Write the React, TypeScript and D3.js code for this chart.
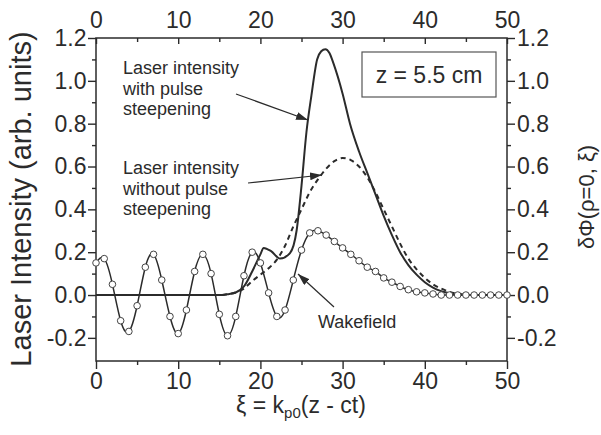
import React, { useEffect, useRef } from 'react'
import * as d3 from 'd3'

// laser intensity with pulse steepening (solid)
const steepXi = [0, 5, 10, 15, 16, 17, 18, 19, 20, 20.4, 21.3, 22.4, 23.6, 24.4, 25, 25.6, 26.2, 26.9, 27.4, 27.9, 28.4, 28.9, 30, 30.9, 32, 33, 34, 35, 36, 37, 38, 39, 40, 41, 42, 43, 44, 45, 50]
const steepVals = [0, 0, 0, 0, 0.004, 0.012, 0.04, 0.11, 0.19, 0.22, 0.205, 0.17, 0.196, 0.3, 0.51, 0.76, 0.93, 1.1, 1.138, 1.148, 1.13, 1.08, 0.94, 0.8, 0.67, 0.57, 0.47, 0.37, 0.28, 0.2, 0.14, 0.095, 0.06, 0.035, 0.018, 0.008, 0.003, 0, 0]

// laser intensity without pulse steepening (dashed)
const plainXi = [0, 5, 10, 15, 16, 17, 18, 19, 20, 21, 22, 23, 24, 25, 26, 27, 28, 29, 30, 31, 32, 33, 34, 35, 36, 37, 38, 39, 40, 41, 42, 43, 44, 45, 46, 50]
const plainVals = [0, 0, 0, 0, 0.004, 0.012, 0.03, 0.065, 0.095, 0.125, 0.165, 0.23, 0.32, 0.4, 0.48, 0.54, 0.59, 0.625, 0.64, 0.63, 0.6, 0.55, 0.48, 0.4, 0.32, 0.24, 0.17, 0.12, 0.08, 0.05, 0.03, 0.015, 0.006, 0.002, 0, 0]

// wakefield, sampled every unit of xi
const wakeXi = d3.range(0, 51)
const wakeVals = [0.15, 0.17, 0.05, -0.12, -0.17, -0.05, 0.13, 0.19, 0.07, -0.1, -0.18, -0.07, 0.11, 0.19, 0.1, -0.09, -0.19, -0.1, 0.09, 0.2, 0.15, 0.01, -0.1, -0.07, 0.07, 0.21, 0.29, 0.3, 0.28, 0.25, 0.22, 0.19, 0.16, 0.13, 0.11, 0.08, 0.06, 0.04, 0.025, 0.015, 0.01, 0.005, 0, 0, 0, 0, 0, 0, 0, 0, 0]

const xTicks = [0, 10, 20, 30, 40, 50]
const xMinor = [5, 15, 25, 35, 45]
const yTicks = [-0.2, 0, 0.2, 0.4, 0.6, 0.8, 1.0, 1.2]
const yMinor = [-0.1, 0.1, 0.3, 0.5, 0.7, 0.9, 1.1]

const ink = '#2b2b2b'
const font = 'Liberation Sans, Arial, Helvetica, sans-serif'

function App () {
  const ref = useRef<SVGSVGElement>(null)

  useEffect(() => {
    const svg = d3.select(ref.current)
    svg.selectAll('*').remove()

    const left = 96
    const right = 507
    const top = 38
    const bottom = 361

    const x = d3.scaleLinear().domain([0, 50]).range([left, right])
    const y = d3.scaleLinear().domain([-0.308, 1.2]).range([bottom, top])

    svg.append('defs').append('marker')
      .attr('id', 'head')
      .attr('viewBox', '0 0 12 8')
      .attr('refX', 12)
      .attr('refY', 4)
      .attr('markerWidth', 12)
      .attr('markerHeight', 8)
      .attr('markerUnits', 'userSpaceOnUse')
      .attr('orient', 'auto')
      .append('path')
      .attr('d', 'M0,0L12,4L0,8Z')
      .attr('fill', ink)

    const styleAxis = (g: any) => {
      g.select('.domain').remove()
      g.selectAll('line').attr('stroke', ink).attr('stroke-width', 1.4)
      g.selectAll('text')
        .attr('fill', ink)
        .attr('font-size', 23)
        .attr('font-family', font)
    }
    const yFmt = (d: any) => (+d).toFixed(1)

    // major ticks with labels
    svg.append('g').attr('transform', `translate(${left},0)`)
      .call(d3.axisLeft(y).tickValues(yTicks).tickFormat(yFmt).tickSize(8).tickPadding(1.5))
      .call(styleAxis)
    svg.append('g').attr('transform', `translate(${right},0)`)
      .call(d3.axisRight(y).tickValues(yTicks).tickFormat(yFmt).tickSize(8).tickPadding(2))
      .call(styleAxis)
    svg.append('g').attr('transform', `translate(0,${bottom})`)
      .call(d3.axisBottom(x).tickValues(xTicks).tickFormat(d3.format('d')).tickSize(8).tickPadding(4))
      .call(styleAxis)
    svg.append('g').attr('transform', `translate(0,${top})`)
      .call(d3.axisTop(x).tickValues(xTicks).tickFormat(d3.format('d')).tickSize(-6).tickPadding(10))
      .call(styleAxis)

    // minor ticks
    svg.append('g').attr('transform', `translate(${left},0)`)
      .call(d3.axisLeft(y).tickValues(yMinor).tickFormat(() => '').tickSize(4))
      .call(styleAxis)
    svg.append('g').attr('transform', `translate(${right},0)`)
      .call(d3.axisRight(y).tickValues(yMinor).tickFormat(() => '').tickSize(4))
      .call(styleAxis)
    svg.append('g').attr('transform', `translate(0,${bottom})`)
      .call(d3.axisBottom(x).tickValues(xMinor).tickFormat(() => '').tickSize(4))
      .call(styleAxis)
    svg.append('g').attr('transform', `translate(0,${top})`)
      .call(d3.axisTop(x).tickValues(xMinor).tickFormat(() => '').tickSize(-4))
      .call(styleAxis)

    // frame
    svg.append('rect')
      .attr('x', left).attr('y', top)
      .attr('width', right - left).attr('height', bottom - top)
      .attr('fill', 'none').attr('stroke', ink).attr('stroke-width', 1.5)

    const line = d3.line<[number, number]>()
      .x(d => x(d[0]))
      .y(d => y(d[1]))
      .curve(d3.curveMonotoneX)

    const wakeLine = d3.line<[number, number]>()
      .x(d => x(d[0]))
      .y(d => y(d[1]))
      .curve(d3.curveNatural)

    const wake = wakeXi.map((v, i) => [v, wakeVals[i]] as [number, number])

    svg.append('path')
      .attr('d', wakeLine(wake))
      .attr('fill', 'none').attr('stroke', ink).attr('stroke-width', 1.5)

    svg.append('path')
      .attr('d', line(plainXi.map((v, i) => [v, plainVals[i]] as [number, number])))
      .attr('fill', 'none').attr('stroke', ink).attr('stroke-width', 2)
      .attr('stroke-dasharray', '5,4')

    svg.append('path')
      .attr('d', line(steepXi.map((v, i) => [v, steepVals[i]] as [number, number])))
      .attr('fill', 'none').attr('stroke', ink).attr('stroke-width', 2)

    svg.append('g').selectAll('circle')
      .data(wake)
      .enter().append('circle')
      .attr('cx', d => x(d[0]))
      .attr('cy', d => y(d[1]))
      .attr('r', 3.3)
      .attr('fill', '#fff')
      .attr('stroke', '#444')
      .attr('stroke-width', 1)

    // z label box
    svg.append('rect')
      .attr('x', 362).attr('y', 52).attr('width', 134).attr('height', 45)
      .attr('fill', '#fff').attr('stroke', '#555').attr('stroke-width', 1.2)
    svg.append('text')
      .attr('x', 429).attr('y', 83)
      .attr('text-anchor', 'middle')
      .attr('font-size', 23).attr('font-family', font).attr('fill', ink)
      .text('z = 5.5 cm')

    // annotations
    const note = (lines: string[], x0: number, y0: number[]) => {
      lines.forEach((t, i) => {
        svg.append('text')
          .attr('x', x0).attr('y', y0[i])
          .attr('font-size', 18).attr('font-family', font).attr('fill', ink)
          .text(t)
      })
    }
    note(['Laser intensity', 'with pulse', 'steepening'], 123, [74, 94.5, 115])
    note(['Laser intensity', 'without pulse', 'steepening'], 123, [174, 194.5, 215])
    note(['Wakefield'], 318, [328])

    const arrow = (x1: number, y1: number, x2: number, y2: number) => {
      svg.append('line')
        .attr('x1', x1).attr('y1', y1).attr('x2', x2).attr('y2', y2)
        .attr('stroke', ink).attr('stroke-width', 1.2)
        .attr('marker-end', 'url(#head)')
    }
    arrow(236, 94, 308, 120)
    arrow(248, 183, 322, 175)
    arrow(334, 307, 298, 274)

    // axis titles
    svg.append('text')
      .attr('transform', 'translate(31,199) rotate(-90)')
      .attr('text-anchor', 'middle')
      .attr('font-size', 29).attr('font-family', font).attr('fill', ink)
      .text('Laser Intensity (arb. units)')

    svg.append('text')
      .attr('transform', 'translate(594,197) rotate(-90)')
      .attr('text-anchor', 'middle')
      .attr('font-size', 22).attr('font-family', font).attr('fill', ink)
      .text('δΦ(ρ=0, ξ)')

    const xt = svg.append('text')
      .attr('x', 301).attr('y', 413)
      .attr('text-anchor', 'middle')
      .attr('font-size', 23).attr('font-family', font).attr('fill', ink)
    xt.append('tspan').text('ξ = k')
    xt.append('tspan').attr('font-size', 15).attr('dy', 5).text('p0')
    xt.append('tspan').attr('dy', -5).text('(z - ct)')
  }, [])

  return (
    <svg
      ref={ref}
      width={601}
      height={435}
      style={{ position: 'absolute', left: 0, top: 0, background: '#fff' }}
    />
  )
}

export default App
